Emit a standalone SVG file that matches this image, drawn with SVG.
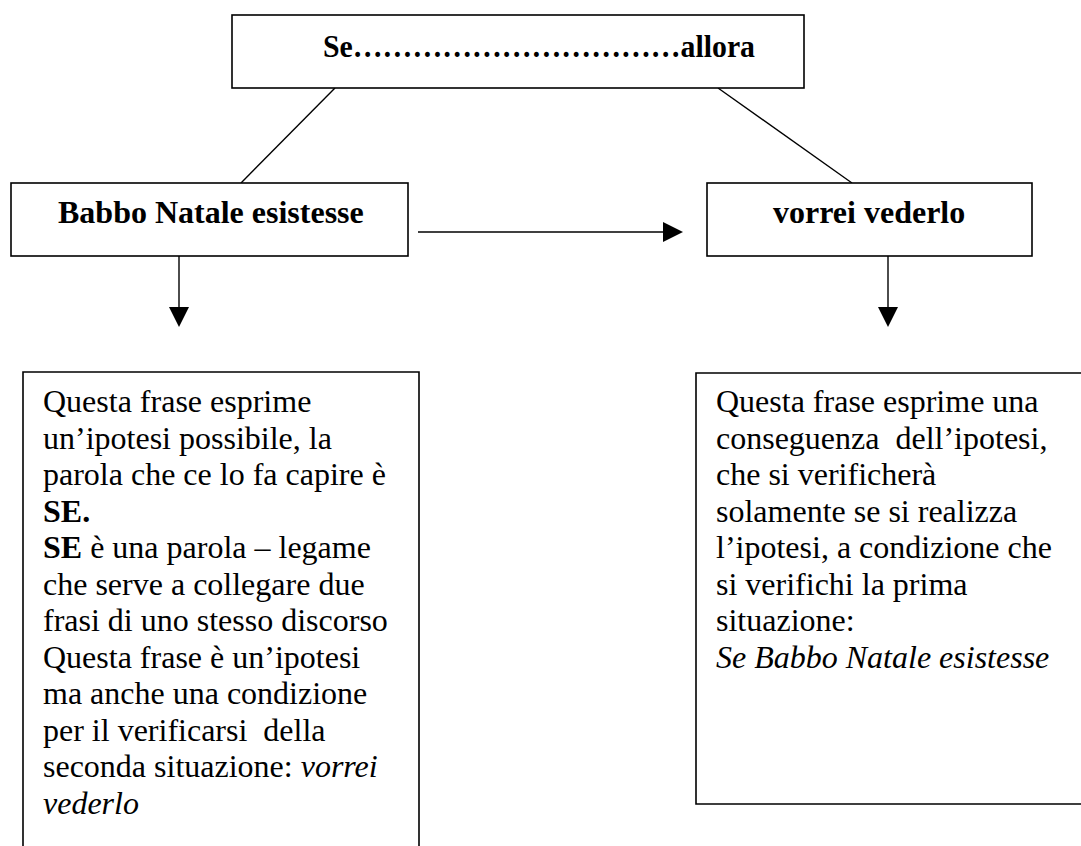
<svg xmlns="http://www.w3.org/2000/svg" width="1081" height="846" viewBox="0 0 1081 846">
<defs>
<style>
.box{fill:#fff;stroke:#000;stroke-width:1.6}
.ln{stroke:#000;stroke-width:1.4;fill:none}
.hd{fill:#000}
.lbl{font-family:"Liberation Serif","Times New Roman",serif;font-size:32px;font-weight:bold;fill:#000}
.body{font-family:"Liberation Serif","Times New Roman",serif;font-size:32px;fill:#000}
.b{font-weight:bold}
.i{font-style:italic}
</style>
</defs>
<rect width="1081" height="846" fill="#fff"/>
<g id="connectors">
<line class="ln" x1="335" y1="88" x2="241" y2="183"/>
<line class="ln" x1="718" y1="88" x2="852" y2="183"/>
<line class="ln" x1="418" y1="232" x2="665" y2="232"/>
<polygon class="hd" points="663,222 683,232 663,242"/>
<line class="ln" x1="179" y1="256" x2="179" y2="309"/>
<polygon class="hd" points="169,307 189,307 179,327"/>
<line class="ln" x1="888" y1="256" x2="888" y2="309"/>
<polygon class="hd" points="878,307 898,307 888,327"/>
</g>
<g id="node-top">
<rect class="box" x="232" y="15" width="572" height="73"/>
<text class="lbl" x="323" y="57" textLength="432" lengthAdjust="spacingAndGlyphs">Se……………………………allora</text>
</g>
<g id="node-babbo">
<rect class="box" x="11" y="183" width="397" height="73"/>
<text class="lbl" x="58" y="223">Babbo Natale esistesse</text>
</g>
<g id="node-vorrei">
<rect class="box" x="707" y="183" width="325" height="73"/>
<text class="lbl" x="773" y="223">vorrei vederlo</text>
</g>
<g id="node-left-desc">
<path class="box" d="M23,860 V372 H419 V860"/>
<text class="body">
<tspan x="43" y="412">Questa frase esprime</tspan>
<tspan x="43" y="448.5">un’ipotesi possibile, la</tspan>
<tspan x="43" y="485">parola che ce lo fa capire è</tspan>
<tspan x="43" y="521.5" class="b">SE.</tspan>
<tspan x="43" y="558"><tspan class="b">SE</tspan> è una parola – legame</tspan>
<tspan x="43" y="594.5">che serve a collegare due</tspan>
<tspan x="43" y="631">frasi di uno stesso discorso</tspan>
<tspan x="43" y="667.5">Questa frase è un’ipotesi</tspan>
<tspan x="43" y="704">ma anche una condizione</tspan>
<tspan x="43" y="740.5" xml:space="preserve">per il verificarsi  della</tspan>
<tspan x="43" y="777">seconda situazione: <tspan class="i">vorrei</tspan></tspan>
<tspan x="43" y="813.5" class="i">vederlo</tspan>
</text>
</g>
<g id="node-right-desc">
<path class="box" d="M1090,373 H696 V804 H1090"/>
<text class="body">
<tspan x="716" y="412">Questa frase esprime una</tspan>
<tspan x="716" y="448.5" xml:space="preserve">conseguenza  dell’ipotesi,</tspan>
<tspan x="716" y="485">che si verificherà</tspan>
<tspan x="716" y="521.5">solamente se si realizza</tspan>
<tspan x="716" y="558">l’ipotesi, a condizione che</tspan>
<tspan x="716" y="594.5">si verifichi la prima</tspan>
<tspan x="716" y="631">situazione:</tspan>
<tspan x="716" y="667.5" class="i">Se Babbo Natale esistesse</tspan>
</text>
</g>
</svg>
